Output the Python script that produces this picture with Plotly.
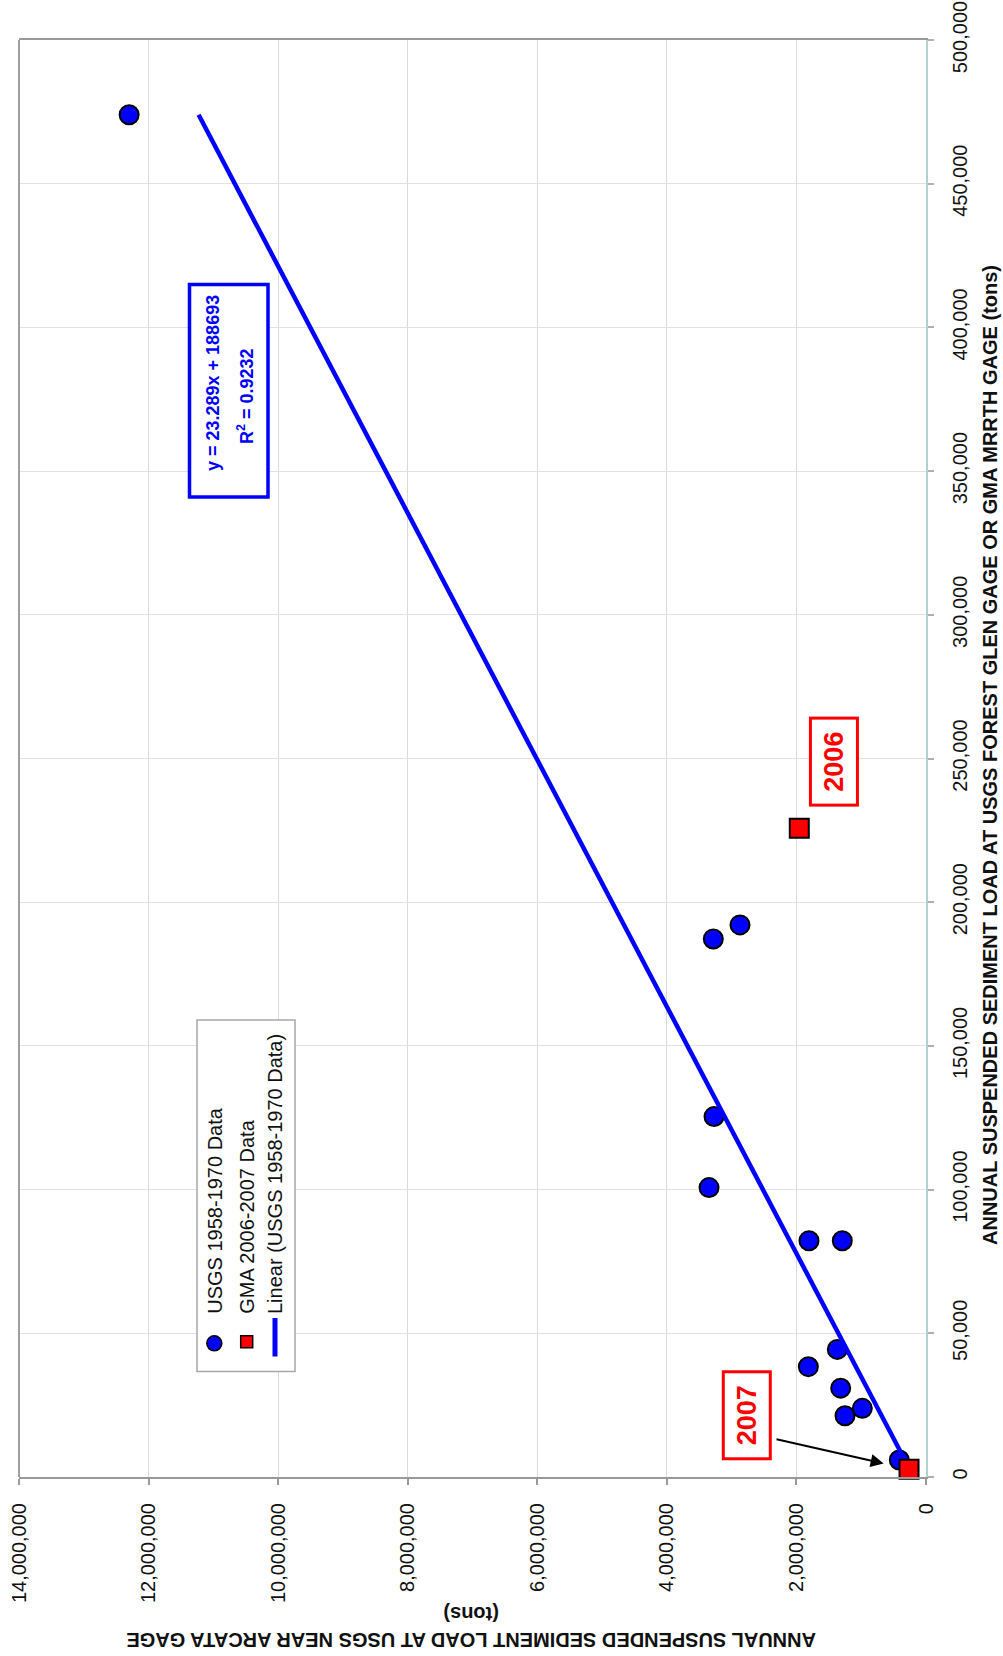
import plotly.graph_objects as go

# Annual suspended sediment loads (tons), USGS record 1958-1970
usgs_forest_glen = [474000, 192100, 187200, 125400, 100700, 82200, 82200,
                    44400, 38400, 30900, 23900, 21300, 5900]
usgs_arcata = [12300000, 2871000, 3283000, 3272000, 3349000, 1806000, 1292000,
               1369000, 1816000, 1317000, 983000, 1250000, 412000]

# GMA station loads (tons), 2006-2007
gma_years = ["2006", "2007"]
gma_mrrth = [225700, 2700]
gma_arcata = [1956000, 262000]

# Linear fit of the USGS data
trend_slope = 23.289
trend_intercept = 188693
trend_r2 = 0.9232

forest_glen_ticks = list(range(0, 500001, 50000))
arcata_ticks = list(range(0, 14000001, 2000000))

legend_labels = ["USGS 1958-1970 Data", "GMA 2006-2007 Data", "Linear (USGS 1958-1970 Data)"]
title_forest_glen = "ANNUAL SUSPENDED SEDIMENT LOAD AT USGS FOREST GLEN GAGE OR GMA MRRTH GAGE (tons)"
title_arcata = "ANNUAL SUSPENDED SEDIMENT LOAD AT USGS NEAR ARCATA GAGE"

FONT = "Liberation Sans, Arial, sans-serif"
BLUE = "#0000ff"
RED = "#ff0000"
INK = "#111111"

# page geometry (pixels)
W, H = 1003, 1656
ML, MR, MT, MB = 19, 77, 40, 179
PW = W - ML - MR
PH = H - MT - MB


def px(x):
    return (x - ML) / PW


def py(y):
    return (H - MB - y) / PH


fig = go.Figure()

# USGS observations
fig.add_trace(go.Scatter(
    x=usgs_arcata, y=usgs_forest_glen, mode="markers",
    marker=dict(symbol="circle", size=19, color=BLUE, line=dict(color="black", width=2)),
    showlegend=False, cliponaxis=False, hoverinfo="skip"))

# regression line over the USGS range
lo, hi = min(usgs_forest_glen), max(usgs_forest_glen)
fig.add_trace(go.Scatter(
    x=[trend_slope * lo + trend_intercept, trend_slope * hi + trend_intercept],
    y=[lo, hi], mode="lines", line=dict(color=BLUE, width=4.5),
    showlegend=False, hoverinfo="skip"))

# GMA observations
fig.add_trace(go.Scatter(
    x=gma_arcata, y=gma_mrrth, mode="markers",
    marker=dict(symbol="square", size=19, color=RED, line=dict(color="black", width=2)),
    showlegend=False, cliponaxis=False, hoverinfo="skip"))

shapes = []
annotations = []

# left border of the plot frame
shapes.append(dict(type="line", xref="paper", yref="paper", x0=0, x1=0, y0=0, y1=1,
                   line=dict(color="#a0a0a0", width=2)))

# year labels for the GMA points
label_shift = {"2006": (35, 67), "2007": (-162, 54)}
for yr, xa, yf in zip(gma_years, gma_arcata, gma_mrrth):
    dx, dy = label_shift[yr]
    annotations.append(dict(
        x=xa, y=yf, xref="x", yref="y", text=f"<b>{yr}</b>", showarrow=False,
        textangle=-90, xshift=dx, yshift=dy, xanchor="center", yanchor="middle",
        font=dict(family=FONT, size=27, color=RED),
        bordercolor=RED, borderwidth=3, borderpad=0, bgcolor="white",
        width=84, height=44))

# arrow pointing at the 2007 point
annotations.append(dict(
    x=gma_arcata[1], y=gma_mrrth[1], xref="x", yref="y", text=" ",
    showarrow=True, arrowhead=2, arrowsize=1.3, arrowwidth=2, arrowcolor="black",
    ax=-137, ay=-31, standoff=26))

# regression equation box
shapes.append(dict(type="rect", xref="paper", yref="paper",
                   x0=px(189.5), x1=px(268), y0=py(284.5), y1=py(497),
                   line=dict(color=BLUE, width=3.5), fillcolor="white"))
annotations.append(dict(
    x=px(213), y=py(383), xref="paper", yref="paper",
    text=f"<b>y = {trend_slope}x + {trend_intercept}</b>", showarrow=False,
    textangle=-90, xanchor="center", yanchor="middle",
    font=dict(family=FONT, size=18, color=BLUE)))
annotations.append(dict(
    x=px(245), y=py(396), xref="paper", yref="paper",
    text=f"<b>R<sup>2</sup> = {trend_r2}</b>", showarrow=False,
    textangle=-90, xanchor="center", yanchor="middle",
    font=dict(family=FONT, size=18, color=BLUE)))

# legend
shapes.append(dict(type="rect", xref="paper", yref="paper",
                   x0=px(197), x1=px(295), y0=py(1020), y1=py(1371.5),
                   line=dict(color="#a8a8a8", width=1.5), fillcolor="white"))
shapes.append(dict(type="circle", xref="paper", yref="paper",
                   x0=px(206.8), x1=px(221.8), y0=py(1350.8), y1=py(1335.8),
                   line=dict(color="black", width=1.5), fillcolor=BLUE))
shapes.append(dict(type="rect", xref="paper", yref="paper",
                   x0=px(240.7), x1=px(252.7), y0=py(1347.7), y1=py(1335.7),
                   line=dict(color="black", width=1.5), fillcolor=RED))
shapes.append(dict(type="line", xref="paper", yref="paper",
                   x0=px(275), x1=px(275), y0=py(1318), y1=py(1356.5),
                   line=dict(color=BLUE, width=5)))
for lbl, cx in zip(legend_labels, [214.3, 246.7, 275]):
    annotations.append(dict(
        x=px(cx), y=py(1316), xref="paper", yref="paper", text=lbl,
        showarrow=False, textangle=-90, xanchor="center", yanchor="bottom",
        font=dict(family=FONT, size=20, color=INK)))

# axis titles
annotations.append(dict(
    x=px(990), y=py(755), xref="paper", yref="paper",
    text=f"<b>{title_forest_glen}</b>", showarrow=False, textangle=-90,
    xanchor="center", yanchor="middle",
    font=dict(family=FONT, size=20, color=INK)))
annotations.append(dict(
    x=px(471), y=py(1627), xref="paper", yref="paper",
    text=f"<b>{title_arcata}</b><br><b>(tons)</b>", showarrow=False, textangle=180,
    xanchor="center", yanchor="middle",
    font=dict(family=FONT, size=20, color=INK)))

fig.update_layout(
    width=W, height=H,
    margin=dict(l=ML, r=MR, t=MT, b=MB, pad=0, autoexpand=False),
    paper_bgcolor="white", plot_bgcolor="white",
    font=dict(family=FONT, size=20, color=INK),
    showlegend=False,
    shapes=shapes, annotations=annotations,
    xaxis=dict(
        range=[14000000, 0], tickvals=arcata_ticks, tickformat=",",
        tickangle=-90, side="bottom", automargin=False,
        showgrid=True, gridcolor="#dadada", gridwidth=1, zeroline=False,
        showline=True, linecolor="#9a9a9a", linewidth=2, mirror=True,
        ticks="outside", ticklen=6, tickcolor="#9a9a9a", tickwidth=1.5,
        ticklabelstandoff=10,
        tickfont=dict(family=FONT, size=20, color=INK)),
    yaxis=dict(
        range=[0, 500000], tickvals=forest_glen_ticks, tickformat=",",
        tickangle=-90, side="right", automargin=False,
        showgrid=True, gridcolor="#e2e2e2", gridwidth=1, zeroline=False,
        showline=True, linecolor="#b2d2d2", linewidth=2,
        ticks="outside", ticklen=6, tickcolor="#b0b0b0", tickwidth=1.5,
        ticklabelstandoff=9,
        tickfont=dict(family=FONT, size=20, color=INK)),
)

fig.write_html("out.html")
